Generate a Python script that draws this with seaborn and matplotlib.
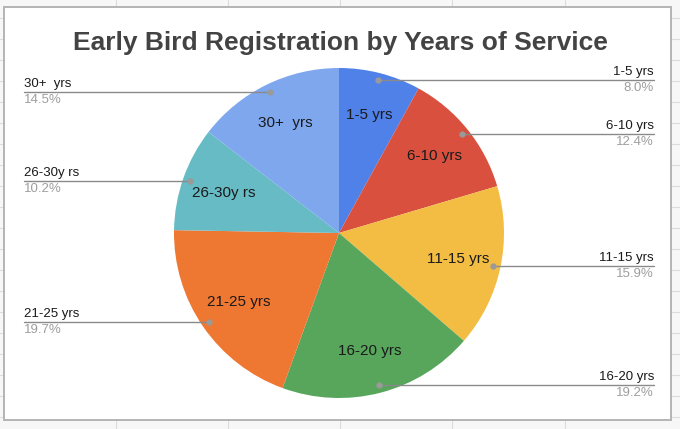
import numpy as np
import matplotlib
matplotlib.use("Agg")
import matplotlib.pyplot as plt
import seaborn as sns

# data
categories = ["1-5 yrs", "6-10 yrs", "11-15 yrs", "16-20 yrs",
              "21-25 yrs", "26-30y rs", "30+  yrs"]
shares = [8.0, 12.4, 15.9, 19.2, 19.7, 10.2, 14.5]
slice_colors = ["#4F81E8", "#D9503F", "#F2BD42", "#58A65C",
                "#EE7732", "#66BBC5", "#7EA7EE"]

sns.set_theme(style="white")
plt.rcParams["font.family"] = ["Liberation Sans", "DejaVu Sans"]

W, H = 680, 429
fig = plt.figure(figsize=(W / 100, H / 100), dpi=100)
fig.patch.set_facecolor("#f7f7f7")
ax = fig.add_axes([0, 0, 1, 1])
ax.set_xlim(0, W)
ax.set_ylim(0, H)
ax.set_aspect("equal")
ax.axis("off")

# spreadsheet grid behind the chart
for gx in [116, 228, 340, 452, 565]:
    ax.plot([gx, gx], [0, H], color="#dcdcdc", lw=0.8, zorder=0)
for gy in range(12, H, 21):
    ax.plot([0, W], [gy, gy], color="#dcdcdc", lw=0.8, zorder=0)

# chart card
card = plt.Rectangle((4, H - 420), 667, 413, facecolor="white",
                     edgecolor="#b4b4b4", lw=1.4, zorder=1)
ax.add_patch(card)

cx, cy, r = 339, H - 233, 165
palette = sns.color_palette(slice_colors)
wedges, texts = ax.pie(
    shares,
    labels=categories,
    colors=palette,
    startangle=90,
    counterclock=False,
    center=(cx, cy),
    radius=r,
    labeldistance=0.74,
    textprops=dict(fontsize=11, color="#1a1a1a", ha="center", va="center"),
    wedgeprops=dict(linewidth=0, zorder=2),
    frame=True,
)
for t in texts:
    t.set_horizontalalignment("center")
    t.set_zorder(3)
ax.set_xlim(0, W)
ax.set_ylim(0, H)
ax.axis("off")

total = sum(shares)
for w, name, v in zip(wedges, categories, shares):
    mid = np.deg2rad((w.theta1 + w.theta2) / 2)
    dx, dy = np.cos(mid), np.sin(mid)
    px, py = cx + 0.955 * r * dx, cy + 0.955 * r * dy
    right = dx >= 0
    ex = 654 if right else 24
    ax.plot([px, ex], [py, py], color="#8a8a8a", lw=1.0, zorder=4)
    ax.plot(px, py, "o", color="#9a9a9a", ms=3.5, zorder=5)
    ha = "right" if right else "left"
    ax.text(ex, py + 2, name, ha=ha, va="bottom", fontsize=9.5,
            color="#1a1a1a", zorder=5)
    ax.text(ex, py - 2, f"{v / total * 100:.1f}%", ha=ha, va="top",
            fontsize=9.5, color="#9e9e9e", zorder=5)

ax.text(W / 2, H - 43, "Early Bird Registration by Years of Service",
        ha="center", va="center", fontsize=19, fontweight="bold",
        color="#434343", zorder=5)

fig.savefig("out.png", dpi=100, facecolor=fig.get_facecolor())
